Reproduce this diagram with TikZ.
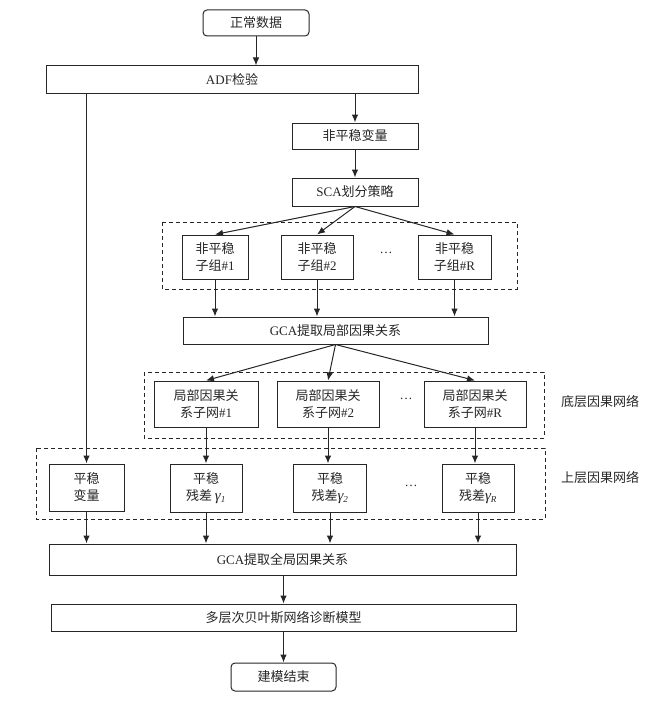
\documentclass[tikz,border=0pt]{standalone}
\usepackage{fontspec}
\setmainfont{Liberation Serif}
\newfontfamily\cjkfont{Noto Sans CJK SC}
\usetikzlibrary{arrows.meta}
\newcommand{\latn}[1]{{\rmfamily #1}}
\newcommand{\resid}[1]{{\rmfamily\itshape\fontsize{15}{17}\selectfont γ}{\rmfamily\itshape\textsubscript{#1}}}

\tikzset{
  procbox/.style={draw, black!85, text=black!85, line width=1pt, inner sep=0pt, align=center,
                  font=\cjkfont\fontsize{13}{17}\selectfont},
  termbox/.style={procbox, rounded corners=4pt},
  groupbox/.style={black!85, line width=1pt, dash pattern=on 4pt off 3pt},
  flow/.style={-{Latex[length=8pt,width=6.5pt]}, black!85, line width=1pt},
  sidelabel/.style={text=black!85, font=\cjkfont\fontsize{13}{17}\selectfont},
  gap/.style={text=black!85, font=\fontsize{13}{17}\selectfont},
}

\begin{document}
\begin{tikzpicture}[x=1pt, y=-1pt]
      \useasboundingbox (0,0) rectangle (663,709);

      % --- top of the flow: data in, ADF test, non-stationary branch ---
      \node[termbox, minimum width=106pt, minimum height=26pt] (start) at (256,23) {正常数据};
      \node[procbox, minimum width=372pt, minimum height=27pt] (adf) at (232,79.5) {\latn{ADF}检验};
      \node[procbox, minimum width=126pt, minimum height=26pt] (nsv) at (355,136) {非平稳变量};
      \node[procbox, minimum width=126pt, minimum height=28pt] (sca) at (355,192) {\latn{SCA}划分策略};

      % --- non-stationary sub-groups (dashed frame drawn first) ---
      \draw[groupbox] (162,222) rectangle (517,289);
      \node[procbox, minimum width=66pt, minimum height=44pt] (g1) at (215,257) {非平稳\\子组\latn{\#1}};
      \node[procbox, minimum width=72pt, minimum height=44pt] (g2) at (317,257) {非平稳\\子组\latn{\#2}};
      \node[procbox, minimum width=73pt, minimum height=44pt] (gR) at (454.5,257) {非平稳\\子组\latn{\#R}};
      \node[gap] (dotsA) at (386,253) {\dots};

      \node[procbox, minimum width=305pt, minimum height=27pt] (gcaL) at (335.5,330.5) {\latn{GCA}提取局部因果关系};

      % --- bottom layer: local causal sub-networks ---
      \draw[groupbox] (144,372) rectangle (544,438);
      \node[procbox, minimum width=104pt, minimum height=46pt] (n1) at (206,404) {局部因果关\\系子网\latn{\#1}};
      \node[procbox, minimum width=102pt, minimum height=46pt] (n2) at (328,404) {局部因果关\\系子网\latn{\#2}};
      \node[procbox, minimum width=102pt, minimum height=46pt] (nR) at (475,404) {局部因果关\\系子网\latn{\#R}};
      \node[gap] (dotsB) at (406,399) {\dots};
      \node[sidelabel] (lowlab) at (600,402) {底层因果网络};

      % --- upper layer: stationary variables and residuals ---
      \draw[groupbox] (36,448) rectangle (545,519);
      \node[procbox, minimum width=75pt, minimum height=47pt] (s0) at (86.5,487.5) {平稳\\变量};
      \node[procbox, minimum width=72pt, minimum height=48pt] (r1) at (206,488) {平稳\\残差 \resid{1}};
      \node[procbox, minimum width=73pt, minimum height=48pt] (r2) at (330,488) {平稳\\残差\resid{2}};
      \node[procbox, minimum width=72pt, minimum height=48pt] (rR) at (478,488) {平稳\\残差\resid{R}};
      \node[gap] (dotsC) at (411,486) {\dots};
      \node[sidelabel] (uplab) at (600,478) {上层因果网络};

      % --- global causality, model, end ---
      \node[procbox, minimum width=467pt, minimum height=31pt] (gcaG) at (282.5,559.5) {\latn{GCA}提取全局因果关系};
      \node[procbox, minimum width=465pt, minimum height=27pt] (diag) at (283.5,617.5) {多层次贝叶斯网络诊断模型};
      \node[termbox, minimum width=105pt, minimum height=28pt] (finish) at (283.5,677) {建模结束};

      % --- connectors ---
      \draw[flow] (start.south) -- (start.south |- adf.north);
      \draw[flow] (nsv.north |- adf.south) -- (nsv.north);
      \draw[flow] (nsv) -- (sca);
      \foreach \g in {g1,g2,gR}
        \draw[flow] (sca.south) -- (\g.north);
      \foreach \g in {g1,g2,gR}
        \draw[flow] (\g.south) -- (\g.south |- gcaL.north);
      \foreach \n in {n1,n2,nR}
        \draw[flow] (gcaL.south) -- (\n.north);
      \foreach \n/\r in {n1/r1,n2/r2,nR/rR}
        \draw[flow] (\n.south) -- (\n.south |- \r.north);
      \draw[flow] (s0.north |- adf.south) -- (s0.north);
      \foreach \r in {s0,r1,r2,rR}
        \draw[flow] (\r.south) -- (\r.south |- gcaG.north);
      \draw[flow] (diag.north |- gcaG.south) -- (diag.north);
      \draw[flow] (diag.south) -- (finish.north);
\end{tikzpicture}
\end{document}
